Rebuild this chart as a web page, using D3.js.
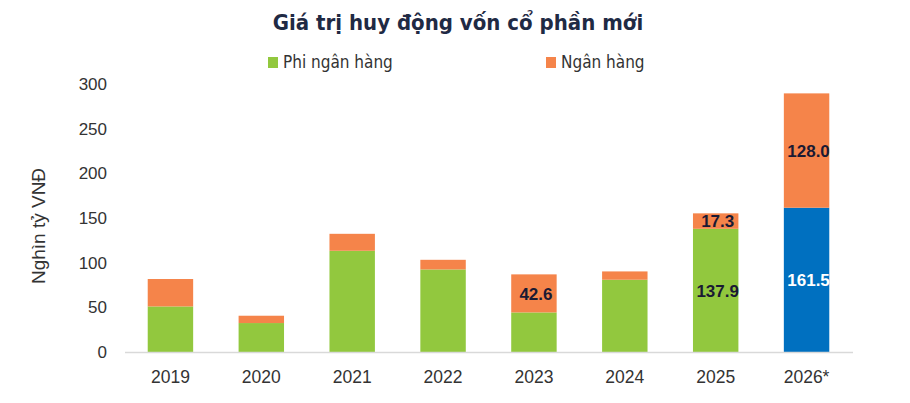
<!DOCTYPE html>
<html>
<head>
<meta charset="utf-8">
<script src="https://cdn.jsdelivr.net/npm/d3@7"></script>
<style>
  body { margin: 0; background: #fff; }
  svg { display: block; }
</style>
</head>
<body>
<div id="chart"></div>
<script>
// du lieu doc tu hinh
const years = ['2019', '2020', '2021', '2022', '2023', '2024', '2025', '2026*'];
const nonBank = [51.0, 32.4, 113.3, 92.4, 44.3, 80.9, 137.9, 161.5];
const bank = [30.7, 8.2, 19.0, 10.8, 42.6, 9.3, 17.3, 128.0];
const showNonBank = [false, false, false, false, false, false, true, true];
const showBank = [false, false, false, false, true, false, true, true];
const yTicks = [0, 50, 100, 150, 200, 250, 300];
const seriesNames = ['Phi ngân hàng', 'Ngân hàng'];

const W = 910, H = 403;
const m = { left: 125, right: 58, top: 84, bottom: 51 };
const green = '#92C83E', orange = '#F5844A', blue = '#0070C0';
const textCol = '#333333', navy = '#1F2A44';

const svg = d3.select('#chart').append('svg')
  .attr('width', W).attr('height', H);

const x = d3.scaleBand().domain(years)
  .range([m.left, W - m.right]).paddingInner(0.5).paddingOuter(0.25);
const y = d3.scaleLinear().domain([0, 300]).range([H - m.bottom, m.top]);

// tieu de
svg.append('text')
  .attr('x', 458).attr('y', 30)
  .attr('text-anchor', 'middle')
  .attr('font-family', 'DejaVu Sans Condensed, DejaVu Sans')
  .attr('font-stretch', 'condensed')
  .attr('font-weight', 'bold').attr('font-size', 22)
  .attr('fill', navy)
  .text('Giá trị huy động vốn cổ phần mới');

// chu thich
const legend = svg.append('g');
const legItems = [
  { name: seriesNames[0], col: green, x: 268 },
  { name: seriesNames[1], col: orange, x: 546 }
];
legend.selectAll('rect').data(legItems).enter().append('rect')
  .attr('x', d => d.x).attr('y', 57).attr('width', 10).attr('height', 11)
  .attr('fill', d => d.col);
legend.selectAll('text').data(legItems).enter().append('text')
  .attr('x', d => d.x + 15).attr('y', 68)
  .attr('font-family', 'DejaVu Sans Condensed, DejaVu Sans')
  .attr('font-stretch', 'condensed')
  .attr('font-size', 17).attr('fill', textCol)
  .text(d => d.name);

// truc y
const yAxis = svg.append('g')
  .attr('transform', `translate(${m.left - 18},0)`)
  .call(d3.axisLeft(y).tickValues(yTicks).tickSize(0).tickPadding(0));
yAxis.select('.domain').remove();
yAxis.selectAll('text')
  .attr('font-family', 'Liberation Sans, Arial, sans-serif')
  .attr('font-size', 17).attr('fill', textCol);

svg.append('text')
  .attr('transform', `translate(45,226) rotate(-90)`)
  .attr('text-anchor', 'middle')
  .attr('font-family', 'Liberation Sans, Arial, sans-serif')
  .attr('font-size', 19).attr('fill', textCol)
  .text('Nghìn tỷ VNĐ');

// cot chong
const stackData = years.map((yr, i) => ({ year: yr, nonBank: nonBank[i], bank: bank[i], i }));
const stack = d3.stack().keys(['nonBank', 'bank'])(stackData);

const layers = svg.append('g').selectAll('g').data(stack).enter().append('g');
layers.selectAll('rect').data(d => d.map(p => ({ p, key: d.key }))).enter().append('rect')
  .attr('x', d => x(d.p.data.year))
  .attr('width', x.bandwidth())
  .attr('y', d => y(d.p[1]))
  .attr('height', d => y(d.p[0]) - y(d.p[1]))
  .attr('fill', d => d.key === 'bank' ? orange : (d.p.data.i === years.length - 1 ? blue : green));

// nhan gia tri
layers.selectAll('text.lbl')
  .data(d => d.map(p => ({ p, key: d.key }))
    .filter(d => d.key === 'bank' ? showBank[d.p.data.i] : showNonBank[d.p.data.i]))
  .enter().append('text')
  .attr('class', 'lbl')
  .attr('x', d => x(d.p.data.year) + x.bandwidth() / 2 + 2)
  .attr('y', d => (y(d.p[0]) + y(d.p[1])) / 2)
  .attr('dy', '0.36em')
  .attr('text-anchor', 'middle')
  .attr('font-family', 'Liberation Sans, Arial, sans-serif')
  .attr('font-weight', 'bold').attr('font-size', 17)
  .attr('fill', d => (d.key === 'nonBank' && d.p.data.i === years.length - 1) ? '#fff' : '#1a1a33')
  .text(d => d3.format('.1f')(d.key === 'bank' ? d.p.data.bank : d.p.data.nonBank));

// truc x
svg.append('line')
  .attr('x1', m.left).attr('x2', W - m.right + 1)
  .attr('y1', y(0) + 0.5).attr('y2', y(0) + 0.5)
  .attr('stroke', '#d9d9d9').attr('stroke-width', 1.5);

const xAxis = svg.append('g')
  .attr('transform', `translate(0,${y(0) + 25})`)
  .call(d3.axisBottom(x).tickSize(0).tickPadding(0));
xAxis.select('.domain').remove();
xAxis.selectAll('text')
  .attr('dy', '0.35em')
  .attr('font-family', 'Liberation Sans, Arial, sans-serif')
  .attr('font-size', 17.5).attr('fill', textCol);
</script>
</body>
</html>
